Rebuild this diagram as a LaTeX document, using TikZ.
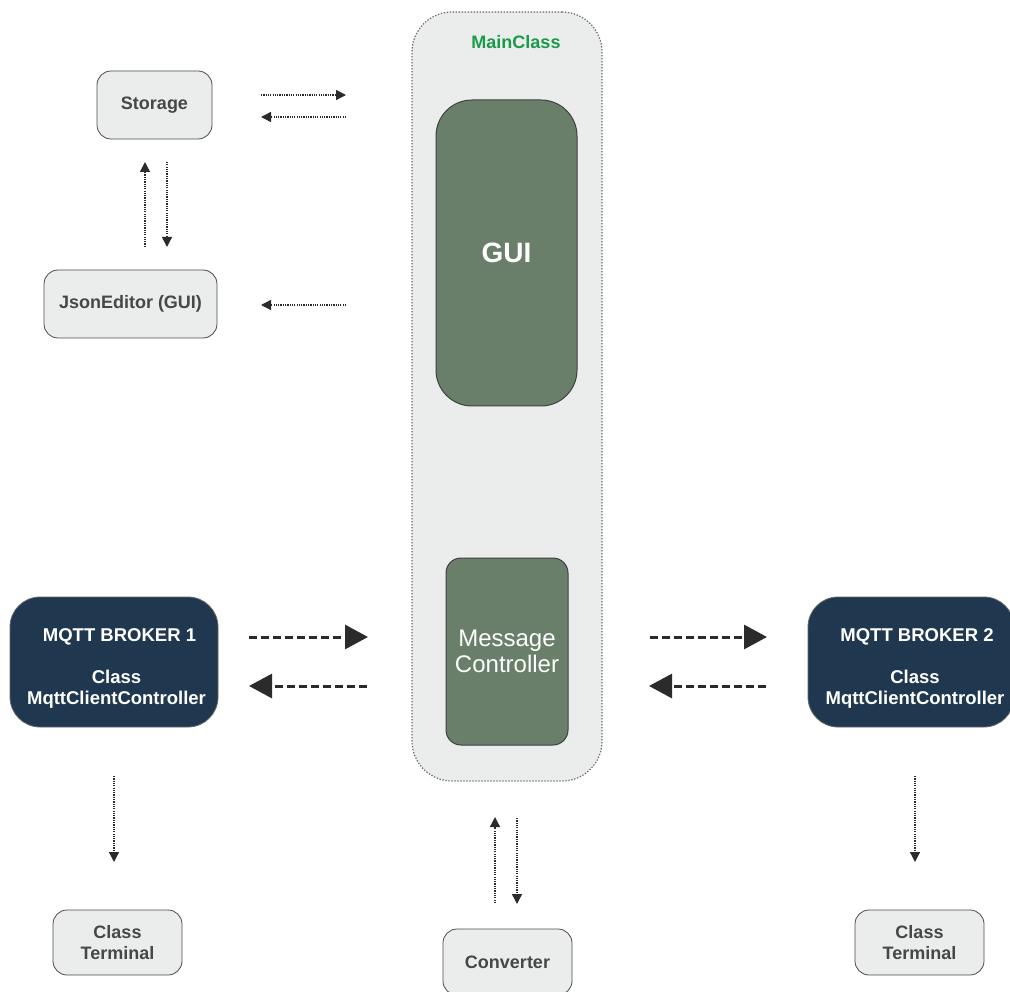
\documentclass[tikz,border=0pt]{standalone}
\usepackage{fontspec}
\setmainfont{Liberation Sans}
\usetikzlibrary{arrows.meta}
\definecolor{boxgrey}{HTML}{EBECEC}
\definecolor{textgrey}{HTML}{474747}
\definecolor{guigreen}{HTML}{6A7F6A}
\definecolor{navy}{HTML}{1F3850}
\definecolor{maingreen}{HTML}{1A9B4B}
\definecolor{arrowc}{HTML}{2B2B2B}
\tikzset{
  lightbox/.style={draw=black!70, fill=boxgrey, rounded corners=14pt, line width=0.8pt,
    font=\bfseries\fontsize{18}{21}\selectfont, text=textgrey, align=center, inner sep=0pt},
  brokerbox/.style={draw=black!60, fill=navy, rounded corners=30pt, line width=0.8pt,
    text=white, align=center, inner sep=0pt},
  brokertext/.style={font=\bfseries\fontsize{18.5}{20.5}\selectfont, text=white, align=center, inner sep=0pt},
  greenbox/.style={draw=black!75, fill=guigreen, line width=1pt, text=white, align=center, inner sep=0pt},
  containerbox/.style={draw=black!60, fill=boxgrey, dash pattern=on 1.3pt off 1.7pt, line width=1.2pt, rounded corners=40pt, inner sep=0pt},
  dotarrow/.style={draw=arrowc, line width=1.4pt, dash pattern=on 1.2pt off 1.1pt, -{Triangle[length=10pt,width=10pt]}},
  dasharrow/.style={draw=arrowc, line width=3pt, dash pattern=on 8pt off 4pt, -{Triangle[length=23pt,width=24pt]}},
}
\begin{document}
\begin{tikzpicture}[x=1pt,y=-1pt]
\useasboundingbox (0,0) rectangle (1010,992);
\clip (0,0) rectangle (1010,992);
% container
\node[containerbox, minimum width=190pt, minimum height=769pt] (main) at (507,396.5) {};
\node[font=\bfseries\fontsize{18}{21}\selectfont, text=maingreen] (mainlabel) at (516,42) {MainClass};
% GUI and message controller
\node[greenbox, rounded corners=36pt, minimum width=141pt, minimum height=306pt,
  font=\bfseries\fontsize{28}{32}\selectfont] (gui) at (506.5,253) {GUI};
\node[greenbox, rounded corners=15pt, minimum width=122pt, minimum height=187pt,
  font=\fontsize{24}{26}\selectfont] (mc) at (507,651.5) {Message\\Controller};
% left top boxes
\node[lightbox, minimum width=115pt, minimum height=68pt] (storage) at (154.5,105) {Storage};
\node[lightbox, minimum width=173pt, minimum height=68pt] (json) at (130.5,304) {JsonEditor (GUI)};
% brokers
\node[brokerbox, minimum width=208pt, minimum height=130pt] (b1) at (114,662) {};
\node[brokertext] (b1t) at (119.5,637) {MQTT BROKER 1};
\node[brokertext] (b1c) at (116.5,689) {Class\\MqttClientController};
\node[brokerbox, minimum width=206pt, minimum height=130pt] (b2) at (911,662) {};
\node[brokertext] (b2t) at (917,637) {MQTT BROKER 2};
\node[brokertext] (b2c) at (915,689) {Class\\MqttClientController};
% bottom boxes
\node[lightbox, minimum width=129pt, minimum height=65pt] (term1) at (117.5,942.5) {Class\\Terminal};
\node[lightbox, minimum width=129pt, minimum height=65pt] (term2) at (919.5,942.5) {Class\\Terminal};
\node[lightbox, minimum width=129pt, minimum height=66pt] (conv) at (507.5,962) {Converter};
% arrow coordinates
\coordinate (a1s) at (261,95);  \coordinate (a1e) at (346,95);
\coordinate (a2s) at (346,117); \coordinate (a2e) at (261,117);
\coordinate (a3s) at (145,247); \coordinate (a3e) at (145,162);
\coordinate (a4s) at (167,162); \coordinate (a4e) at (167,247);
\coordinate (a5s) at (346,305); \coordinate (a5e) at (261,305);
\coordinate (d1s) at (249,637); \coordinate (d1e) at (368,637);
\coordinate (d2s) at (367,686); \coordinate (d2e) at (249,686);
\coordinate (d3s) at (650,637); \coordinate (d3e) at (767,637);
\coordinate (d4s) at (766,686); \coordinate (d4e) at (649,686);
\coordinate (t1s) at (114,776); \coordinate (t1e) at (114,862);
\coordinate (t2s) at (915,776); \coordinate (t2e) at (915,862);
\coordinate (c1s) at (495,903); \coordinate (c1e) at (495,817);
\coordinate (c2s) at (517,818); \coordinate (c2e) at (517,904);
% arrows
\draw[dotarrow] (a1s) -- (a1e);
\draw[dotarrow] (a2s) -- (a2e);
\draw[dotarrow] (a3s) -- (a3e);
\draw[dotarrow] (a4s) -- (a4e);
\draw[dotarrow] (a5s) -- (a5e);
\draw[dasharrow] (d1s) -- (d1e);
\draw[dasharrow] (d2s) -- (d2e);
\draw[dasharrow] (d3s) -- (d3e);
\draw[dasharrow] (d4s) -- (d4e);
\draw[dotarrow] (t1s) -- (t1e);
\draw[dotarrow] (t2s) -- (t2e);
\draw[dotarrow] (c1s) -- (c1e);
\draw[dotarrow] (c2s) -- (c2e);
\end{tikzpicture}
\end{document}
